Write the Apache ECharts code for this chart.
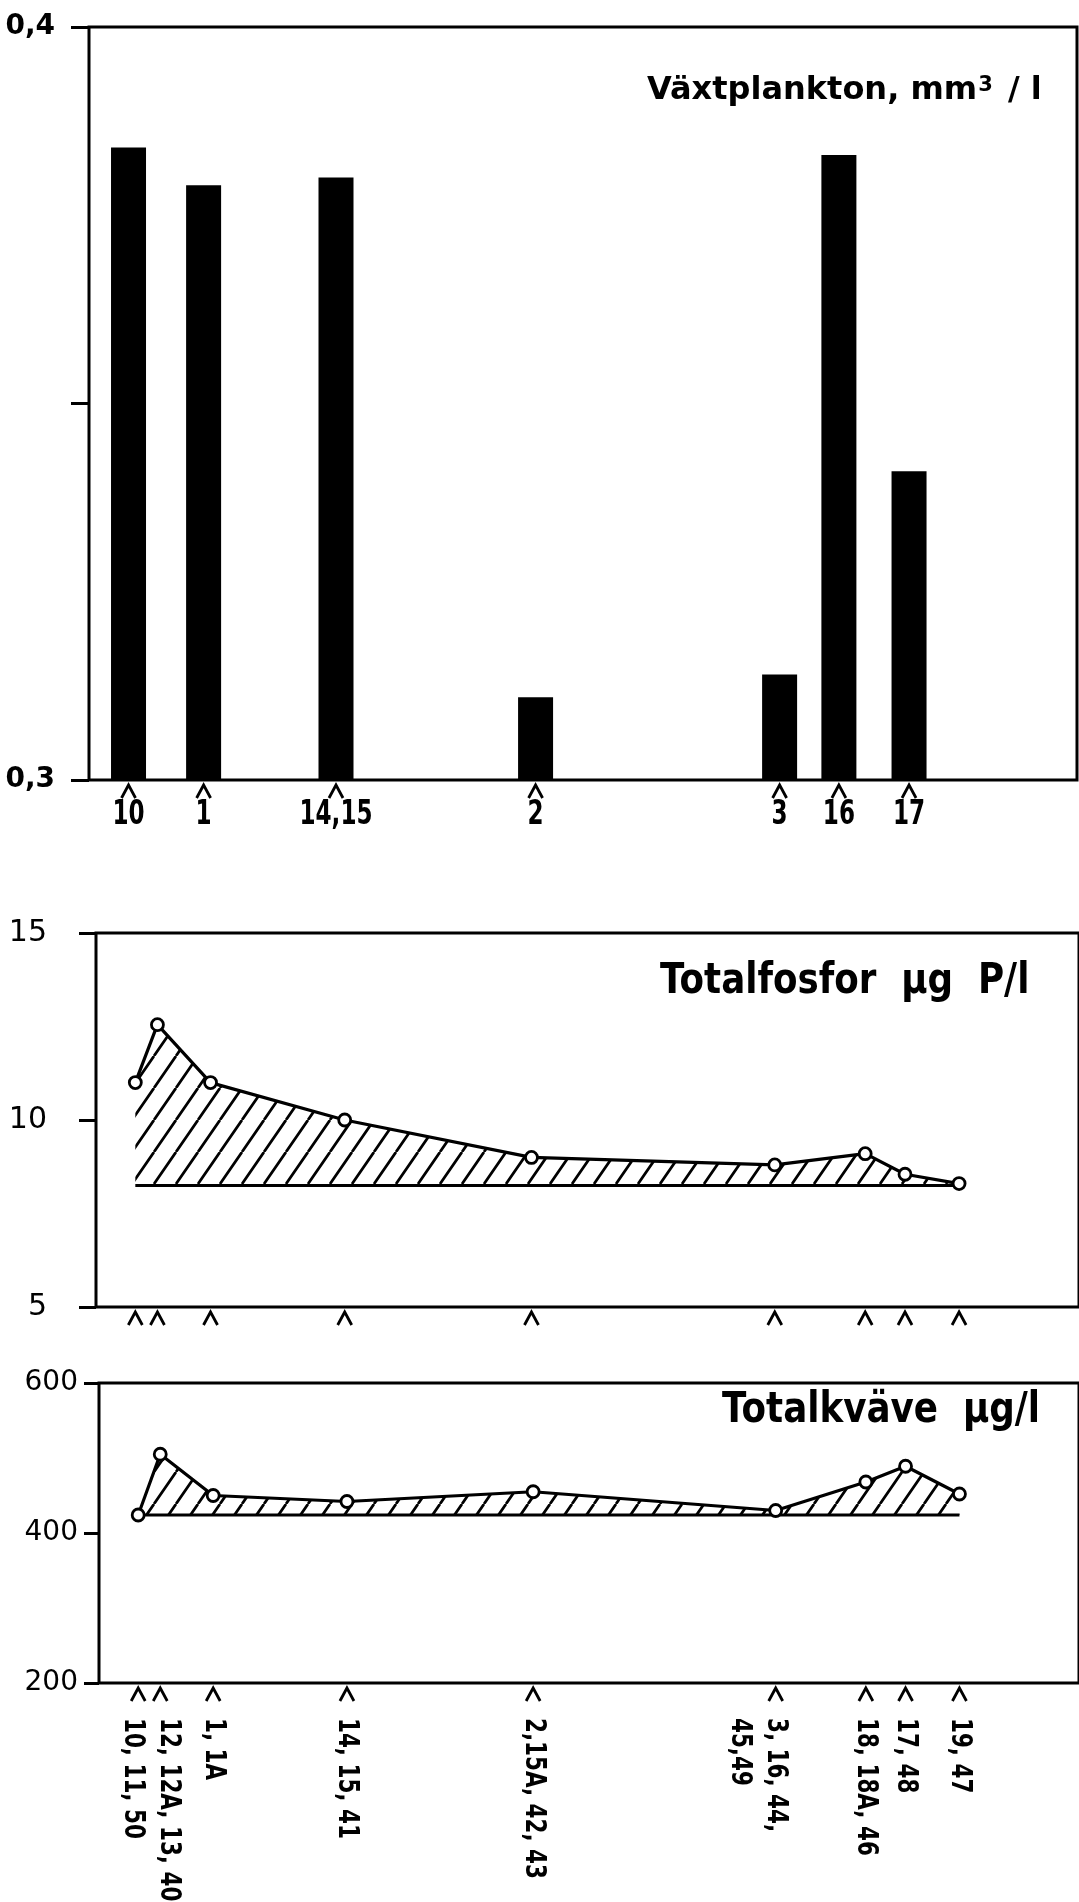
<!DOCTYPE html>
<html>
<head>
<meta charset="utf-8">
<script src="https://cdn.jsdelivr.net/npm/echarts@6/dist/echarts.min.js"></script>
<style>
  html, body { margin: 0; padding: 0; background: #fff; }
  #chart { width: 1079px; height: 1902px; }
</style>
</head>
<body>
<div id="chart"></div>
<script>
// Phytoplankton volume per station (mm3/l), distance along the transect (0-100)
const planktonStations = ['10', '1', '14,15', '2', '3', '16', '17'];
const planktonDist = [4.0, 11.6, 25.0, 45.2, 69.9, 75.9, 83.0];
const planktonVolume = [0.384, 0.379, 0.380, 0.311, 0.314, 0.383, 0.341];
const planktonTicks = [0.3, 0.35, 0.4];
const planktonTickText = ['0,3', '', '0,4'];

// Station groups used for the nutrient samples
const stationGroups = [
  ['10, 11, 50'], ['12, 12A, 13, 40'], ['1, 1A'], ['14, 15, 41'],
  ['2,15A, 42, 43'], ['3, 16, 44,', '45,49'], ['18, 18A, 46'], ['17, 48'], ['19, 47']
];
const stationDist = [4.0, 6.25, 11.65, 25.3, 44.3, 69.05, 78.25, 82.3, 87.8];

// Total phosphorus, µg P/l
const phosphorus = [11.0, 12.55, 11.0, 10.0, 9.0, 8.8, 9.1, 8.55, 8.3];
const phosphorusBase = 8.25;
const phosphorusTicks = [5, 10, 15];

// Total nitrogen, µg/l
const nitrogen = [424, 505, 450, 442, 455, 430, 468, 489, 452];
const nitrogenBase = 424;
const nitrogenTicks = [200, 400, 600];

const FONT = 'DejaVu Sans';
const INK = '#000';

// The two closely spaced groups at the start get their label columns spread apart
const labelSpread = [-6, 8, 0, 0, 0, 0, 0, 0, 0];

// Diagonal hatching used for the shaded areas
function hatchPattern() {
  const w = 22, h = 32;
  const c = document.createElement('canvas');
  c.width = w; c.height = h;
  const g = c.getContext('2d');
  g.strokeStyle = INK;
  g.lineWidth = 2.7;
  g.beginPath();
  for (const dx of [-w, 0, w]) {
    g.moveTo(dx, h);
    g.lineTo(dx + w, 0);
  }
  g.stroke();
  return { image: c, repeat: 'repeat' };
}

function yAxisFor(gridIndex, ticks, labelText, opts) {
  return {
    gridIndex: gridIndex,
    type: 'value',
    min: ticks[0],
    max: ticks[ticks.length - 1],
    interval: ticks[1] - ticks[0],
    axisLine: { show: false },
    splitLine: { show: false },
    axisTick: { show: true, length: opts.tick, lineStyle: { color: INK, width: 3 } },
    axisLabel: {
      margin: opts.margin,
      color: INK,
      fontFamily: FONT,
      fontSize: opts.fontSize,
      fontWeight: opts.fontWeight,
      formatter: function (v) {
        let best = 0;
        ticks.forEach(function (t, i) {
          if (Math.abs(t - v) < Math.abs(ticks[best] - v)) best = i;
        });
        return labelText ? labelText[best] : String(ticks[best]);
      }
    }
  };
}

// Station markers (caret under the axis) with their labels
function stationMarks(gridIndex, dist, yMin, labels, mode) {
  return {
    type: 'custom',
    xAxisIndex: gridIndex,
    yAxisIndex: gridIndex,
    silent: true,
    clip: false,
    z: 6,
    data: dist.map(function (d) { return [d, yMin]; }),
    renderItem: function (params, api) {
      const p = api.coord([api.value(0), api.value(1)]);
      const cx = p[0], cy = p[1];
      const children = [{
        type: 'polyline',
        shape: { points: [[cx - 7, cy + 18], [cx, cy + 5], [cx + 7, cy + 18]] },
        style: { stroke: INK, lineWidth: 2.8, fill: null }
      }];
      if (mode === 'flat') {
        children.push({
          type: 'text', x: cx, y: cy + 35, scaleX: 0.7,
          style: {
            text: labels[params.dataIndex], fill: INK,
            fontFamily: FONT, fontWeight: 'bold', fontSize: 33,
            align: 'center', verticalAlign: 'middle'
          }
        });
      } else if (mode === 'down') {
        const lines = labels[params.dataIndex];
        const shift = labelSpread[params.dataIndex];
        lines.forEach(function (line, i) {
          children.push({
            type: 'text', x: cx + shift - i * 36, y: cy + 35,
            rotation: -Math.PI / 2, scaleX: 0.74,
            style: {
              text: line, fill: INK,
              fontFamily: FONT, fontWeight: 'bold', fontSize: 29,
              align: 'left', verticalAlign: 'middle'
            }
          });
        });
      }
      return { type: 'group', children: children };
    }
  };
}

function nutrientSeries(gridIndex, values, base) {
  const pattern = hatchPattern();
  const last = stationDist.length - 1;
  return [
    {
      type: 'line',
      xAxisIndex: gridIndex, yAxisIndex: gridIndex,
      data: [[stationDist[0], base], [stationDist[last], base]],
      symbol: 'none',
      lineStyle: { color: INK, width: 3 },
      z: 2
    },
    {
      type: 'line',
      xAxisIndex: gridIndex, yAxisIndex: gridIndex,
      data: stationDist.map(function (d, i) { return [d, values[i]]; }),
      symbol: 'circle',
      symbolSize: 12,
      itemStyle: { color: '#fff', borderColor: INK, borderWidth: 2.8 },
      lineStyle: { color: INK, width: 3.2 },
      areaStyle: { color: pattern, opacity: 1, origin: base },
      z: 3
    }
  ];
}

const chart = echarts.init(document.getElementById('chart'), null, { renderer: 'canvas' });

const gridBase = { show: true, borderColor: INK, borderWidth: 3, backgroundColor: 'transparent' };

chart.setOption({
  animation: false,
  backgroundColor: '#fff',
  grid: [
    Object.assign({ left: 89, top: 27, width: 988, height: 753 }, gridBase),
    Object.assign({ left: 96, top: 933, width: 1000, height: 374 }, gridBase),
    Object.assign({ left: 99, top: 1383, width: 1000, height: 300 }, gridBase)
  ],
  xAxis: [0, 1, 2].map(function (i) {
    return { gridIndex: i, type: 'value', min: 0, max: 100, show: false };
  }),
  yAxis: [
    yAxisFor(0, planktonTicks, planktonTickText, { tick: 18, margin: 34, fontSize: 28, fontWeight: 'bold' }),
    yAxisFor(1, phosphorusTicks, null, { tick: 17, margin: 49, fontSize: 30, fontWeight: 'normal' }),
    yAxisFor(2, nitrogenTicks, null, { tick: 15, margin: 21, fontSize: 28, fontWeight: 'normal' })
  ],
  graphic: [
    {
      type: 'text', x: 647, y: 91,
      style: {
        text: '{a|Växtplankton, mm}{s|3}{a| / l}',
        verticalAlign: 'middle', align: 'left',
        rich: {
          a: { fontFamily: FONT, fontWeight: 'bold', fontSize: 32, fill: INK, color: INK },
          s: { fontFamily: FONT, fontWeight: 'bold', fontSize: 21, fill: INK, color: INK, verticalAlign: 'top', padding: [0, 4, 0, 1] }
        }
      }
    },
    {
      type: 'text', x: 660, y: 982, scaleX: 0.83,
      style: {
        text: 'Totalfosfor  µg  P/l', fill: INK,
        fontFamily: FONT, fontWeight: 'bold', fontSize: 43, align: 'left', verticalAlign: 'middle'
      }
    },
    {
      type: 'text', x: 722, y: 1411, scaleX: 0.83,
      style: {
        text: 'Totalkväve  µg/l', fill: INK,
        fontFamily: FONT, fontWeight: 'bold', fontSize: 43, align: 'left', verticalAlign: 'middle'
      }
    }
  ],
  series: [
    {
      type: 'bar',
      xAxisIndex: 0, yAxisIndex: 0,
      barWidth: 35,
      data: planktonDist.map(function (d, i) { return [d, planktonVolume[i]]; }),
      itemStyle: { color: INK },
      z: 2
    },
    stationMarks(0, planktonDist, planktonTicks[0], planktonStations, 'flat'),
    ...nutrientSeries(1, phosphorus, phosphorusBase),
    stationMarks(1, stationDist, phosphorusTicks[0], null, 'none'),
    ...nutrientSeries(2, nitrogen, nitrogenBase),
    stationMarks(2, stationDist, nitrogenTicks[0], stationGroups, 'down')
  ]
});
</script>
</body>
</html>
